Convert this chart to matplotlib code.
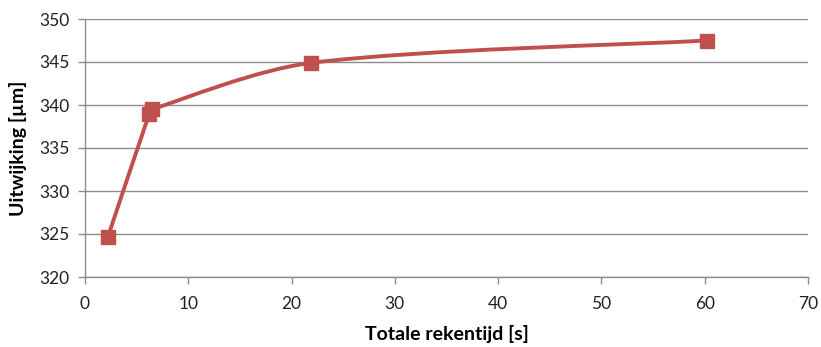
import numpy as np
import matplotlib
matplotlib.use("Agg")
import matplotlib.pyplot as plt
from matplotlib.path import Path
from matplotlib.patches import PathPatch

plt.rcParams['font.family'] = ['Lato', 'DejaVu Sans']

# Total computation time [s] vs. deflection [µm]
rekentijd = [2.2, 6.2, 6.5, 21.9, 60.2]
uitwijking = [324.6, 338.9, 339.5, 344.9, 347.5]

x_ticks = [0, 10, 20, 30, 40, 50, 60, 70]
y_ticks = [320, 325, 330, 335, 340, 345, 350]

line_color = '#C0504D'
grid_color = '#8C8C8C'

W, H = 821, 347
left_px, right_px, top_px, bottom_px = 85, 808, 19, 277

fig = plt.figure(figsize=(W / 100, H / 100), dpi=100)
ax = fig.add_axes([left_px / W, 1 - bottom_px / H,
                   (right_px - left_px) / W, (bottom_px - top_px) / H])

ax.set_xlim(0, 70)
ax.set_ylim(320, 350)
ax.set_xticks(x_ticks)
ax.set_yticks(y_ticks)

# Smoothed curve through the points: cubic Bezier segments with
# Catmull-Rom tangents, computed in display space and clamped so the
# closely spaced points do not make the curve loop back.
fig.canvas.draw()
pts_disp = ax.transData.transform(np.column_stack([rekentijd, uitwijking]))
n = len(pts_disp)
tangents = []
for i in range(n):
    p_prev = pts_disp[i - 1] if i > 0 else pts_disp[i]
    p_next = pts_disp[i + 1] if i + 1 < n else pts_disp[i]
    tangents.append((p_next - p_prev) / 5.0)

verts = [tuple(pts_disp[0])]
codes = [Path.MOVETO]
for i in range(n - 1):
    p1, p2 = pts_disp[i], pts_disp[i + 1]
    limit = np.linalg.norm(p2 - p1) / 3
    t1, t2 = tangents[i], tangents[i + 1]
    l1, l2 = np.linalg.norm(t1), np.linalg.norm(t2)
    if l1 > limit:
        t1 = t1 * limit / l1
    if l2 > limit:
        t2 = t2 * limit / l2
    verts += [tuple(p1 + t1), tuple(p2 - t2), tuple(p2)]
    codes += [Path.CURVE4, Path.CURVE4, Path.CURVE4]
verts_data = ax.transData.inverted().transform(np.array(verts))
curve = PathPatch(Path(verts_data, codes), facecolor='none', edgecolor=line_color,
                  lw=2.8, capstyle='round', joinstyle='round', zorder=3)
ax.add_patch(curve)
ax.plot(rekentijd, uitwijking, linestyle='none', marker='s', markersize=9.5,
        color=line_color, zorder=4, clip_on=False)

ax.grid(axis='y', color=grid_color, linewidth=1.0)
ax.set_axisbelow(True)
for side in ['top', 'right']:
    ax.spines[side].set_visible(False)
for side in ['left', 'bottom']:
    ax.spines[side].set_color(grid_color)
    ax.spines[side].set_linewidth(1.0)

ax.tick_params(axis='both', direction='out', length=5, color=grid_color,
               labelsize=12.5, labelcolor='#222222', width=1.0)
ax.tick_params(axis='x', pad=9)
ax.tick_params(axis='y', pad=6)

ax.set_xlabel('Totale rekentijd [s]', fontsize=14, fontweight='bold', labelpad=9)
ax.set_ylabel('Uitwijking [µm]', fontsize=14, fontweight='bold', labelpad=9)

fig.savefig('out.png', dpi=100)
